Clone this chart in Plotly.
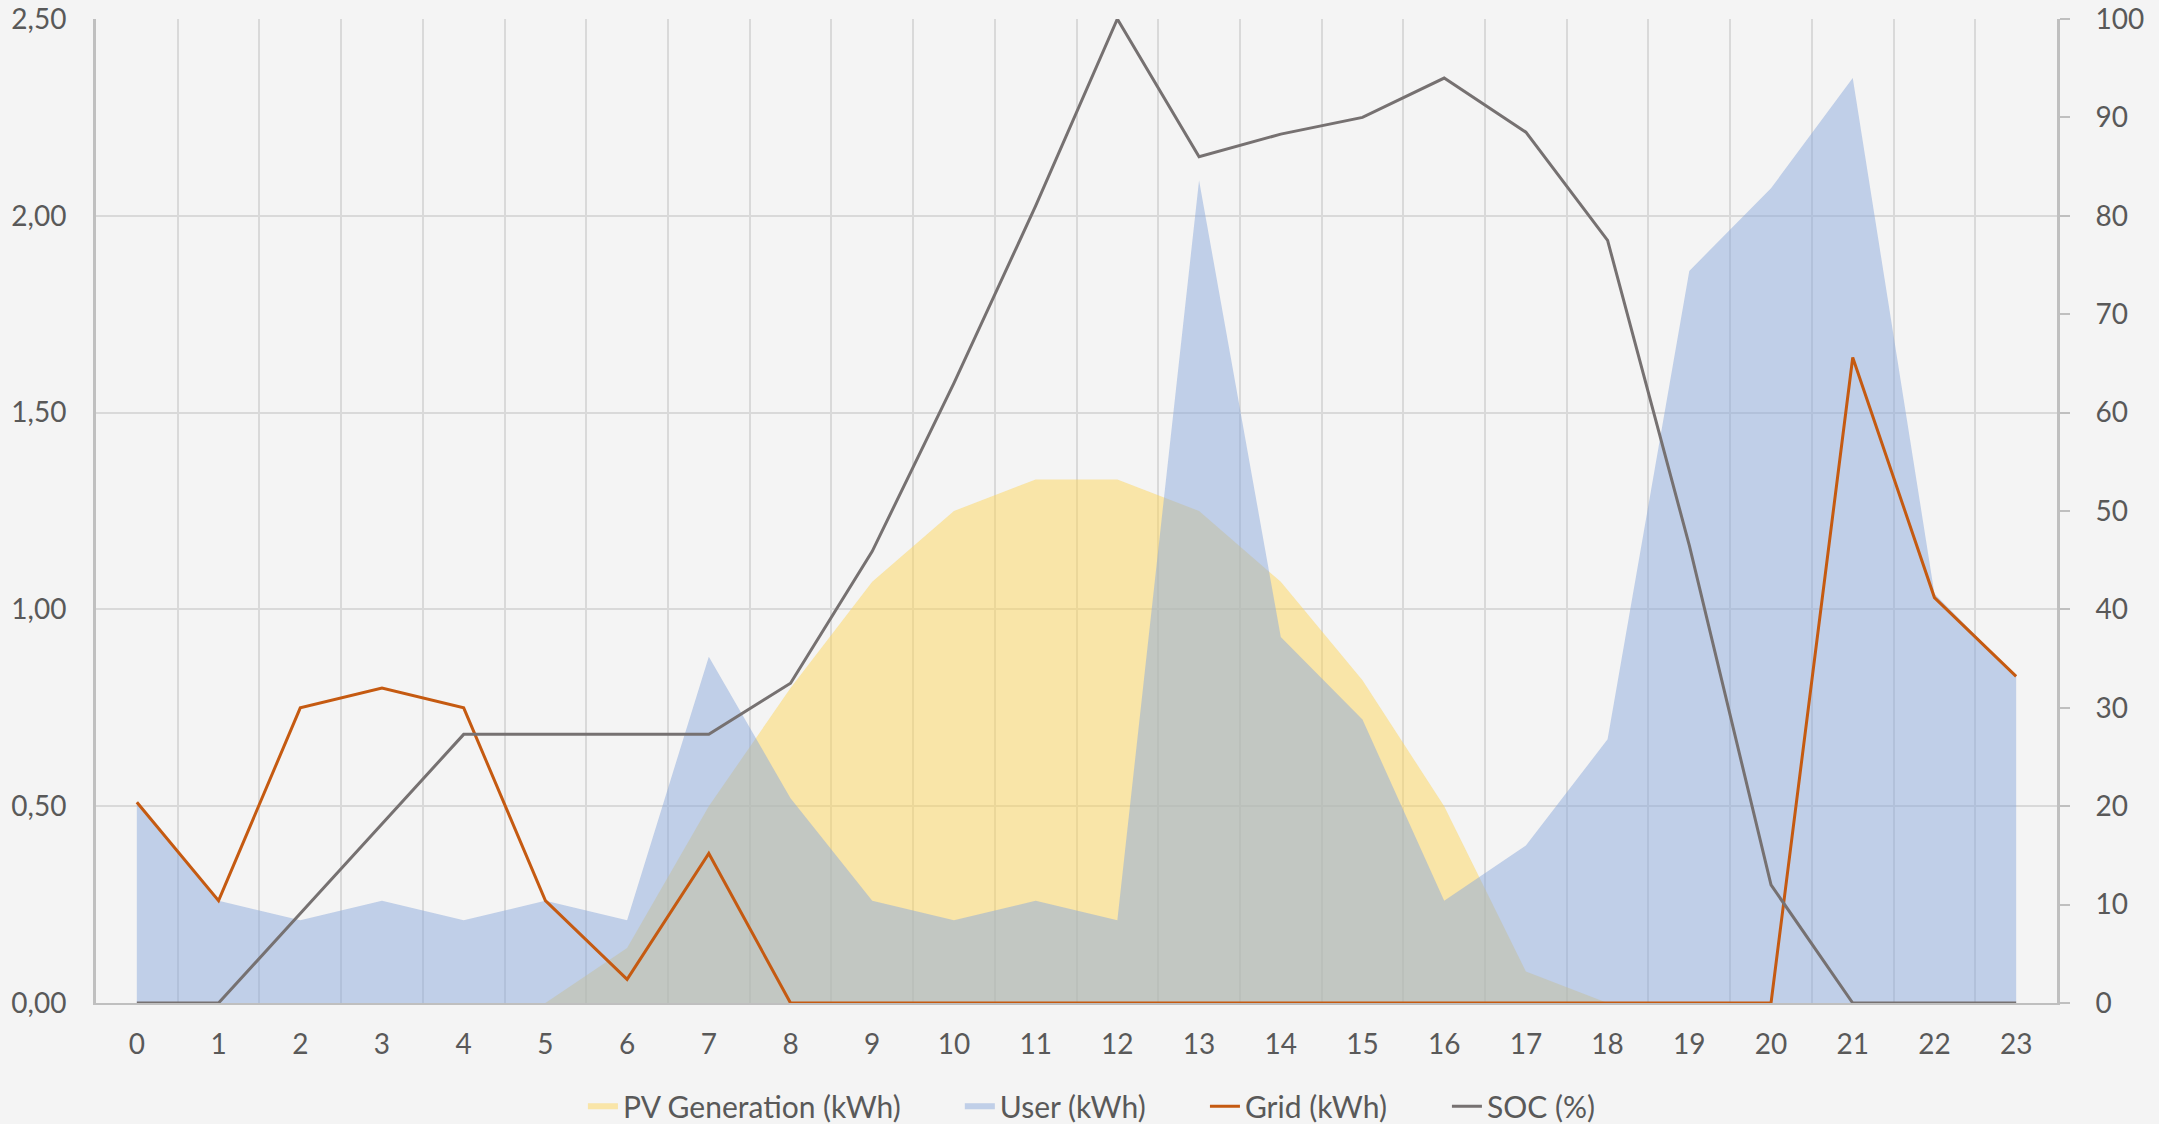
import plotly.graph_objects as go

hours = [str(h) for h in range(24)]
pv_generation = [0, 0, 0, 0, 0, 0, 0.14, 0.50, 0.80, 1.07, 1.25, 1.33, 1.33, 1.25, 1.07, 0.82,
                 0.50, 0.08, 0.00, 0, 0, 0, 0, 0]
user = [0.51, 0.26, 0.21, 0.26, 0.21, 0.26, 0.21, 0.88, 0.52, 0.26, 0.21, 0.26, 0.21, 2.09,
        0.93, 0.72, 0.26, 0.40, 0.67, 1.86, 2.07, 2.35, 1.04, 0.83]
grid = [0.51, 0.26, 0.75, 0.80, 0.75, 0.26, 0.06, 0.38, 0, 0, 0, 0, 0, 0, 0, 0, 0, 0, 0, 0, 0,
        1.64, 1.03, 0.83]
soc = [0, 0, 9.1, 18.2, 27.3, 27.3, 27.3, 27.3, 32.5, 45.9, 63.0, 81.0, 100, 86.0, 88.3, 90.0,
       94.0, 88.5, 77.5, 46.5, 12.0, 0, 0, 0]

left_ticks = [0, 0.5, 1.0, 1.5, 2.0, 2.5]
right_ticks = list(range(0, 101, 10))

FONT = "Lato, 'Open Sans', sans-serif"
TXT = "#595959"
GRID = "#D9D9D9"
AX = "#BFBFBF"
BG = "#F4F4F4"

fig = go.Figure()
fig.add_trace(go.Scatter(x=hours, y=pv_generation, name="PV Generation (kWh)", mode="none",
                         fill="tozeroy", fillcolor="rgba(254,214,92,0.5)", legend="legend"))
fig.add_trace(go.Scatter(x=hours, y=user, name="User (kWh)", mode="none",
                         fill="tozeroy", fillcolor="rgba(140,170,220,0.5)", legend="legend2"))
fig.add_trace(go.Scatter(x=hours, y=grid, name="Grid (kWh)", mode="lines",
                         line=dict(color="#C55A11", width=3), legend="legend3"))
fig.add_trace(go.Scatter(x=hours, y=soc, name="SOC (%)", mode="lines", yaxis="y2",
                         line=dict(color="#767171", width=3), legend="legend4"))

def leg(x):
    return dict(orientation="h", x=x, xanchor="left", y=-0.105, yanchor="middle",
                font=dict(size=30, color=TXT), bgcolor="rgba(0,0,0,0)")

fig.update_layout(
    width=2159, height=1124,
    paper_bgcolor=BG, plot_bgcolor=BG,
    separators=",.",
    font=dict(family=FONT, size=28, color=TXT),
    margin=dict(l=96, r=102, t=19, b=121, autoexpand=False),
    showlegend=True,
    legend=leg(0.2483), legend2=leg(0.4405), legend3=leg(0.5655), legend4=leg(0.6889),
    xaxis=dict(type="category", range=[-0.5, 23.5], tickson="boundaries", automargin=False,
               showgrid=True, gridcolor=GRID, gridwidth=2,
               showline=True, linecolor=AX, linewidth=2,
               ticks="", ticklabelstandoff=15, tickfont=dict(size=28, color=TXT)),
    yaxis=dict(range=[0, 2.5], tickvals=left_ticks, tickformat=".2f", automargin=False,
               showgrid=True, gridcolor=GRID, gridwidth=2, zeroline=False,
               showline=True, linecolor=AX, linewidth=3, ticks="",
               ticklabelstandoff=21, tickfont=dict(size=28, color=TXT)),
    yaxis2=dict(range=[0, 100], tickvals=right_ticks, overlaying="y", side="right",
                automargin=False,
                showgrid=False, zeroline=False, showline=True, linecolor=AX, linewidth=3,
                ticks="outside", ticklen=10, tickwidth=2, tickcolor=AX,
                ticklabelstandoff=20, tickfont=dict(size=28, color=TXT)),
)

fig.write_html("out.html",
               config={"displayModeBar": False},
               post_script="document.body.style.margin='0';"
                           "document.body.style.overflow='hidden';"
                           "document.body.style.background='#F4F4F4';")
